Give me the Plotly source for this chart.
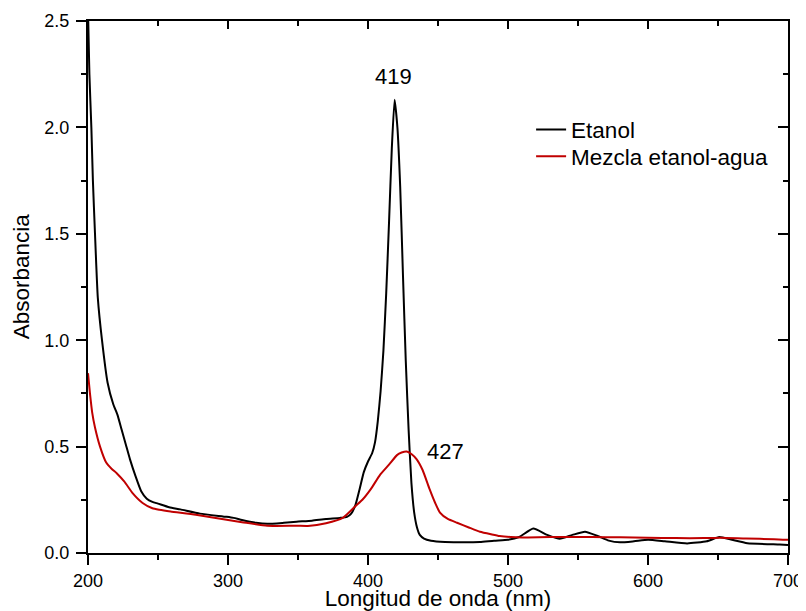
import plotly.graph_objects as go

# Etanol (black)
etanol_nm = [200, 201, 202.4, 203.5, 205, 207, 210, 214, 218, 221, 224, 227, 230, 234, 238, 242, 246, 250,
             258, 266, 280, 299, 304, 310, 320, 328, 340, 349, 360, 370, 380, 385, 388, 391, 394, 397, 400,
             403, 405, 407, 409, 411, 413, 415, 417, 419, 421, 423, 425, 427, 429, 431, 433, 435, 437, 440,
             445, 455, 470, 480, 490, 500, 508, 518, 528, 537, 546, 555, 564, 572, 580, 590, 600, 612, 628,
             642, 651, 660, 671, 694, 700]
etanol_abs = [2.55, 2.25, 2.0, 1.75, 1.5, 1.2, 1.0, 0.8, 0.70, 0.65, 0.58, 0.51, 0.44, 0.36, 0.29, 0.255, 0.24, 0.232,
              0.215, 0.205, 0.185, 0.17, 0.165, 0.155, 0.142, 0.137, 0.142, 0.147, 0.152, 0.16, 0.165, 0.17, 0.185,
              0.225, 0.30, 0.38, 0.43, 0.47, 0.52, 0.62, 0.76, 0.95, 1.22, 1.55, 1.9, 2.13, 2.0, 1.72, 1.30, 0.90,
              0.58, 0.33, 0.19, 0.12, 0.085, 0.068, 0.058, 0.052, 0.05, 0.052, 0.058, 0.062, 0.075, 0.115, 0.085,
              0.067, 0.085, 0.10, 0.08, 0.058, 0.05, 0.055, 0.062, 0.055, 0.045, 0.055, 0.075, 0.062, 0.046, 0.04,
              0.038]

# Mezcla etanol-agua (red)
mezcla_nm = [200, 201.4, 203, 205, 208.6, 213, 217, 220.5, 226, 232, 239, 246, 251, 259, 277, 299, 310, 328,
             349, 357, 370, 382, 391, 396, 402, 408.6, 415, 420.7, 424, 427.6, 431, 434.8, 439, 444, 448, 451.4,
             457, 463.6, 472, 480, 488, 494, 502, 510, 530, 560, 580, 600, 620, 640, 652, 670, 690, 700]
mezcla_abs = [0.845, 0.75, 0.66, 0.59, 0.50, 0.425, 0.395, 0.375, 0.335, 0.28, 0.235, 0.21, 0.203, 0.195, 0.18,
              0.156, 0.145, 0.128, 0.128, 0.127, 0.14, 0.165, 0.22, 0.25, 0.30, 0.367, 0.415, 0.46, 0.472, 0.477,
              0.465, 0.44, 0.39, 0.30, 0.235, 0.19, 0.16, 0.142, 0.12, 0.10, 0.088, 0.08, 0.075, 0.073, 0.075,
              0.075, 0.074, 0.072, 0.07, 0.07, 0.072, 0.068, 0.065, 0.062]

x_ticks = [200, 300, 400, 500, 600, 700]
y_ticks = [0.0, 0.5, 1.0, 1.5, 2.0, 2.5]

FONT = "Arial, Liberation Sans, sans-serif"
BIG = 22.5

fig = go.Figure()
fig.add_trace(go.Scatter(x=etanol_nm, y=etanol_abs, mode="lines", name="Etanol", legend="legend",
                         line=dict(color="black", width=2, shape="spline", smoothing=0.5)))
fig.add_trace(go.Scatter(x=mezcla_nm, y=mezcla_abs, mode="lines", name="Mezcla etanol-agua", legend="legend2",
                         line=dict(color="#c00000", width=2, shape="spline", smoothing=0.5)))
# helper trace for mirrored axes (top/right) with inward ticks
fig.add_trace(go.Scatter(x=[None], y=[None], xaxis="x2", yaxis="y2", showlegend=False, hoverinfo="skip"))

axis_common = dict(showline=True, linecolor="black", linewidth=2, showgrid=False, zeroline=False,
                   automargin=False, tickcolor="black", tickwidth=1.5,
                   tickfont=dict(family=FONT, size=18, color="black"))

legend_common = dict(xanchor="left", yanchor="middle", bgcolor="rgba(0,0,0,0)",
                     font=dict(family=FONT, size=BIG, color="black"))

fig.update_layout(
    width=798, height=603,
    margin=dict(l=80, r=18, t=12.5, b=58),
    paper_bgcolor="white", plot_bgcolor="white",
    font=dict(family=FONT, color="black"),
    xaxis=dict(range=[200, 700], tickvals=x_ticks, ticks="outside", ticklen=10,
               minor=dict(dtick=50, ticks="outside", ticklen=5, tickcolor="black", tickwidth=1.5),
               title=dict(text="Longitud de onda (nm)", font=dict(family=FONT, size=BIG), standoff=6),
               **axis_common),
    yaxis=dict(range=[0, 2.5], tickvals=y_ticks, tickformat=".1f", ticks="outside", ticklen=10,
               ticklabelstandoff=3,
               minor=dict(dtick=0.25, ticks="outside", ticklen=5, tickcolor="black", tickwidth=1.5),
               **axis_common),
    xaxis2=dict(range=[200, 700], overlaying="x", side="top", tickvals=x_ticks, ticks="inside", ticklen=8,
                showticklabels=False,
                minor=dict(dtick=50, ticks="inside", ticklen=5, tickcolor="black", tickwidth=1.5),
                **axis_common),
    yaxis2=dict(range=[0, 2.5], overlaying="y", side="right", tickvals=y_ticks, ticks="inside", ticklen=10,
                showticklabels=False,
                minor=dict(dtick=0.25, ticks="inside", ticklen=5, tickcolor="black", tickwidth=1.5),
                **axis_common),
    legend=dict(x=0.633, y=0.7955, **legend_common),
    legend2=dict(x=0.633, y=0.745, **legend_common),
    showlegend=True,
    annotations=[
        dict(x=418.5, y=2.24, xref="x", yref="y", text="419", showarrow=False, xanchor="center",
             font=dict(family=FONT, size=22, color="black")),
        dict(x=455, y=0.478, xref="x", yref="y", text="427", showarrow=False, xanchor="center",
             font=dict(family=FONT, size=22, color="black")),
        dict(x=-0.0957, y=0.52, xref="paper", yref="paper", text="Absorbancia", showarrow=False,
             xanchor="center", yanchor="middle",
             textangle=-90, font=dict(family=FONT, size=BIG, color="black")),
    ],
)

fig.write_html("out.html")
